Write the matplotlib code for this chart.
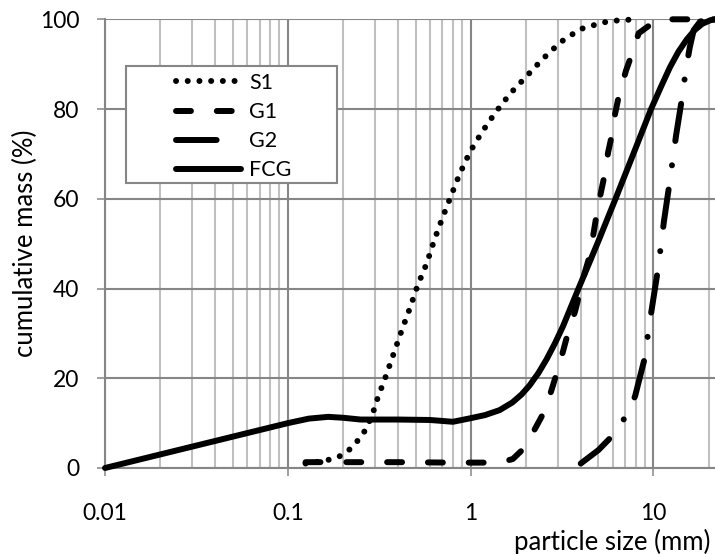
import matplotlib
matplotlib.use("Agg")
import matplotlib.pyplot as plt
from matplotlib.patches import Rectangle
from matplotlib.ticker import LogLocator, NullFormatter, FixedLocator

plt.rcParams['font.family'] = ['Lato', 'DejaVu Sans']

# Grading curves: particle size (mm) vs cumulative passing mass (%)
s1_size = [0.125, 0.16, 0.19, 0.216, 0.24, 0.263, 0.28, 0.296, 0.31, 0.344,
           0.38, 0.42, 0.465, 0.514, 0.575, 0.63, 0.70, 0.78, 0.87, 0.99,
           1.15, 1.37, 1.65, 2.02, 2.47, 3.1, 3.97, 5.3, 6.2, 8.0]
s1_mass = [1.0, 1.6, 2.5, 4.0, 6.0, 8.2, 10.5, 13.0, 15.6, 20.5,
           25.6, 30.7, 35.6, 40.8, 45.6, 50.6, 55.7, 60.6, 65.5, 70.4,
           74.8, 79.3, 83.5, 87.3, 91.1, 94.9, 97.8, 99.3, 99.7, 100.0]

g1_size = [0.125, 0.2, 0.4, 0.8, 1.2, 1.5, 1.7, 1.97, 2.26, 2.5, 2.75, 2.95,
           3.2, 3.4, 3.73, 4.2, 4.5, 4.7, 4.9, 5.18, 5.43, 5.65, 5.95, 6.17,
           6.47, 7.08, 7.64, 8.3, 10.0, 11.5, 22.0]
g1_mass = [1.3, 1.3, 1.3, 1.2, 1.2, 1.4, 2.0, 4.5, 8.9, 12.2, 17.0, 21.0,
           26.0, 30.0, 35.0, 43.4, 47.6, 52.3, 56.8, 61.8, 65.7, 70.4, 74.6, 79.0,
           83.0, 88.6, 92.4, 96.9, 99.3, 100.0, 100.0]

g2_size = [4.0, 5.0, 6.0, 7.08, 7.93, 9.1, 9.34, 9.8, 10.6, 11.0, 11.4, 12.3,
           12.8, 13.3, 14.5, 15.0, 15.8, 16.6, 18.0, 20.0, 22.0]
g2_mass = [1.0, 4.0, 7.3, 11.6, 16.0, 25.6, 30.3, 35.6, 44.5, 49.8, 54.9, 64.1,
           69.3, 74.2, 83.8, 88.6, 93.8, 97.6, 99.5, 100.0, 100.0]

fcg_size = [0.01, 0.1, 0.13, 0.166, 0.2, 0.25, 0.4, 0.6, 0.8, 1.0, 1.2, 1.44,
            1.69, 1.9, 2.1, 2.35, 2.6, 2.9, 3.2, 3.89, 5.0, 6.2, 7.64, 9.7,
            11.0, 12.3, 13.7, 15.2, 16.8, 18.5, 20.5, 22.0]
fcg_mass = [0.0, 10.0, 11.0, 11.4, 11.2, 10.8, 10.8, 10.7, 10.3, 11.1, 11.8, 12.9,
            14.6, 16.4, 18.4, 21.2, 24.2, 27.9, 31.6, 40.0, 50.6, 60.0, 69.3, 80.0,
            85.0, 89.3, 92.8, 95.5, 97.6, 99.0, 99.8, 100.0]

labels = ["S1", "G1", "G2", "FCG"]
x_ticks = [0.01, 0.1, 1, 10]
x_tick_labels = ["0.01", "0.1", "1", "10"]
y_ticks = [0, 20, 40, 60, 80, 100]

W, H = 715, 554
fig = plt.figure(figsize=(W / 100, H / 100), dpi=100)
ax_left, ax_right, ax_top, ax_bottom = 105, 715, 19.3, 468
ax = fig.add_axes([ax_left / W, (H - ax_bottom) / H,
                   (ax_right - ax_left) / W, (ax_bottom - ax_top) / H])

major_grey = "#868686"
minor_grey = "#c0c0c0"
fs = 16.5
label_fs = 18.5
legend_fs = 15.5
lw = 4.3

ax.set_xscale("log")
ax.set_xlim(0.01, 21.7)
ax.set_ylim(0, 100)

ax.xaxis.set_major_locator(FixedLocator(x_ticks))
ax.set_xticklabels(x_tick_labels)
ax.xaxis.set_minor_locator(LogLocator(base=10, subs=range(2, 10), numticks=20))
ax.xaxis.set_minor_formatter(NullFormatter())
ax.set_yticks(y_ticks)

ax.grid(True, which="major", axis="both", color=major_grey, lw=1.5, zorder=0)
ax.grid(True, which="minor", axis="x", color=minor_grey, lw=1.5, zorder=0)
ax.set_axisbelow(True)

for side in ("top", "right"):
    ax.spines[side].set_visible(False)
for side in ("left", "bottom"):
    ax.spines[side].set_color(major_grey)
    ax.spines[side].set_linewidth(1.5)

ax.tick_params(axis="both", which="major", direction="out", length=5.5,
               width=1.1, color=major_grey, labelsize=fs)
ax.tick_params(axis="x", which="major", pad=20)
ax.tick_params(axis="y", which="major", pad=13)
ax.tick_params(axis="x", which="minor", length=0)

common = dict(color="black", lw=lw, solid_capstyle="round",
              dash_capstyle="round", solid_joinstyle="round",
              dash_joinstyle="round", clip_on=False, zorder=3)
ax.plot(s1_size, s1_mass, ls=(0, (0.01, 1.95)), label=labels[0], **common)
ax.plot(g1_size, g1_mass, ls=(0, (2.5, 4.33)), label=labels[1], **common)
ax.plot(g2_size, g2_mass, ls=(0, (6.3, 4.1, 0.01, 4.1)), label=labels[2], **common)
ax.plot(fcg_size, fcg_mass, ls="-", label=labels[3], **common)

def ax_frac(px, py):
    return ((px - ax_left) / (ax_right - ax_left),
            (ax_bottom - py) / (ax_bottom - ax_top))

# legend box
bx0, by0 = ax_frac(126, 183)
bx1, by1 = ax_frac(337, 66)
ax.add_patch(Rectangle((bx0, by0), bx1 - bx0, by1 - by0, transform=ax.transAxes,
                       facecolor="white", edgecolor=major_grey, lw=1.5,
                       zorder=4, clip_on=False))
lx, ly = ax_frac(176, 73)
leg = ax.legend(loc="upper left", bbox_to_anchor=(lx, ly), borderaxespad=0,
                borderpad=0, frameon=False, fontsize=legend_fs, handlelength=3.0,
                handletextpad=0.4, labelspacing=0.42)
leg.set_zorder(5)
# the short legend sample of G2 shows a single long dash
leg.get_lines()[2].set_linestyle((0, (6.8, 10)))

ax.set_ylabel("cumulative mass (%)", fontsize=label_fs)
ax.yaxis.set_label_coords(ax_frac(38, 0)[0], 0.5)
ax.set_xlabel("particle size (mm)", fontsize=label_fs, ha="right")
ax.xaxis.set_label_coords(*ax_frac(710, 529))

fig.savefig("out.png", dpi=100)
